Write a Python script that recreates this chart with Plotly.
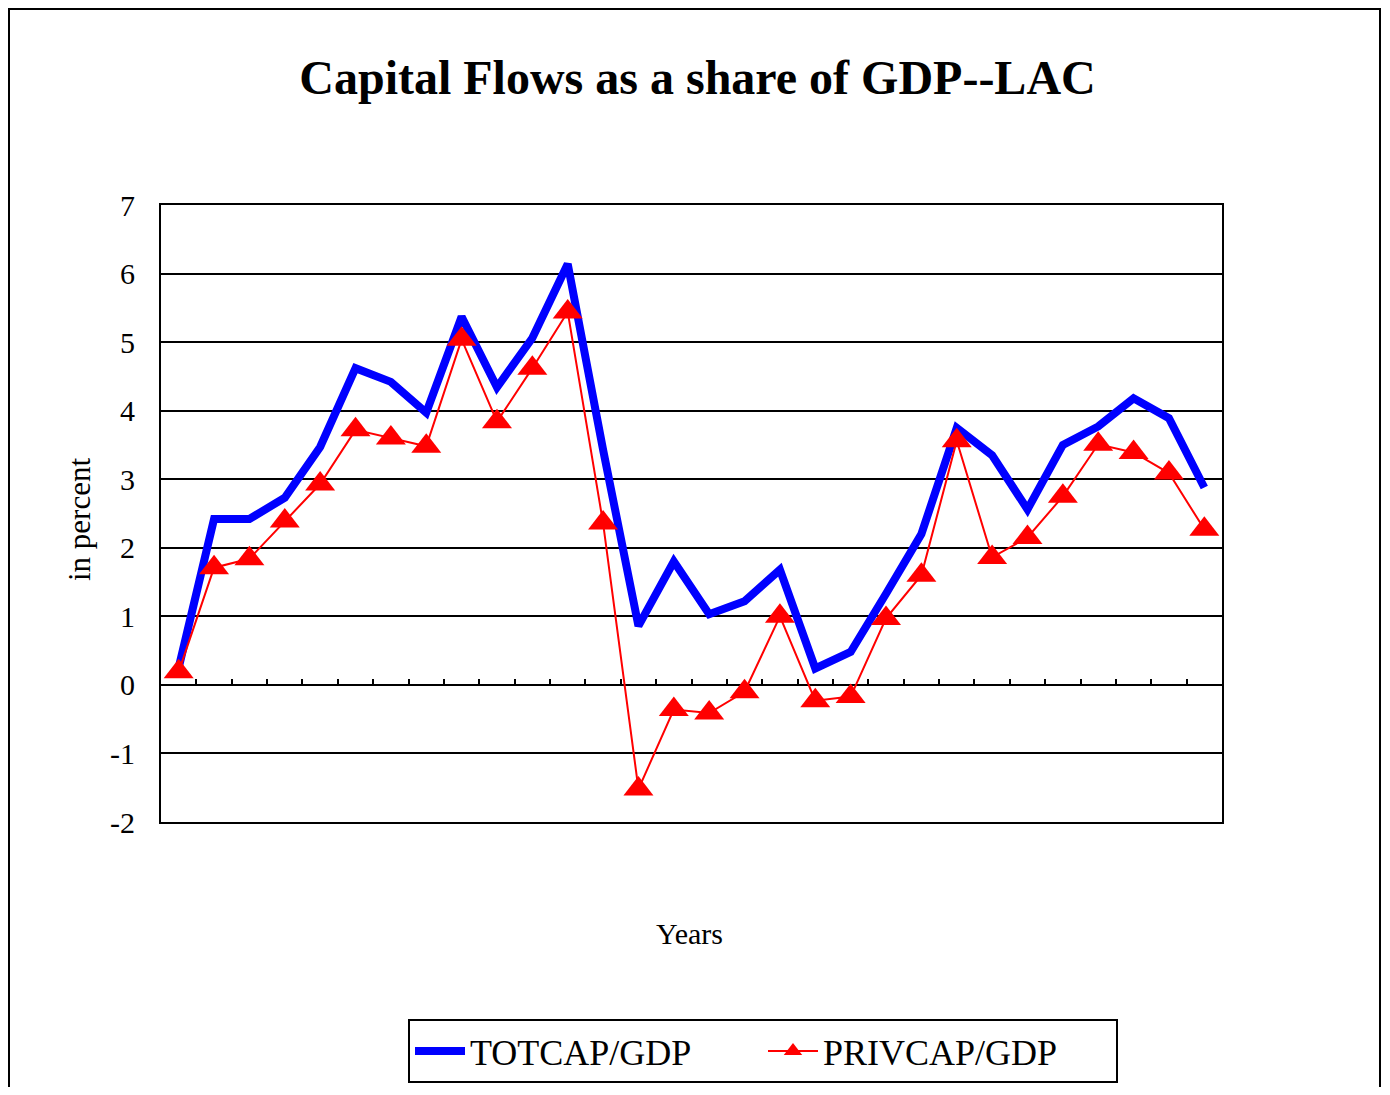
import plotly.graph_objects as go

years = list(range(1, 31))
totcap = [0.25, 2.42, 2.42, 2.73, 3.47, 4.62, 4.42, 3.97, 5.37, 4.34, 5.06, 6.14,
          3.43, 0.86, 1.80, 1.03, 1.22, 1.68, 0.24, 0.48, 1.33, 2.20, 3.75, 3.35,
          2.56, 3.50, 3.77, 4.18, 3.89, 2.88]
privcap = [0.19, 1.71, 1.84, 2.39, 2.93, 3.72, 3.60, 3.48, 5.04, 3.84, 4.62, 5.44,
           2.36, -1.52, -0.36, -0.41, -0.10, 1.00, -0.23, -0.17, 0.97, 1.60, 3.56, 1.86,
           2.15, 2.75, 3.51, 3.39, 3.09, 2.27]
y_ticks = [-2, -1, 0, 1, 2, 3, 4, 5, 6, 7]
y_ticktext = ["-2", "-1", "0", "1", "2", "3", "4", "5", "6", "7"]
boundaries = [i + 0.5 for i in range(1, 30)]

FONT = "Liberation Serif"
W, H = 1374, 1079

fig = go.Figure()
fig.add_trace(go.Scatter(x=years, y=totcap, mode="lines", name="TOTCAP/GDP",
                         line=dict(color="#0000FF", width=8)))
fig.add_trace(go.Scatter(x=years, y=privcap, mode="lines+markers", name="PRIVCAP/GDP",
                         line=dict(color="#FF0000", width=2),
                         marker=dict(symbol="triangle-up", size=26, color="#FF0000")))
# invisible trace for the zero-line tick axis
fig.add_trace(go.Scatter(x=[years[0]], y=[0], xaxis="x2", mode="markers",
                         marker=dict(opacity=0), showlegend=False, hoverinfo="skip"))

fig.update_layout(
    width=W, height=H,
    margin=dict(l=153, r=W - 1214, t=197, b=H - 814, autoexpand=False),
    paper_bgcolor="white", plot_bgcolor="white",
    font=dict(family=FONT, color="black"),
    title=dict(text="<b>Capital Flows as a share of GDP--LAC</b>",
               x=689.5 / W, xanchor="center", y=1 - 69 / H, yanchor="middle",
               font=dict(family=FONT, size=48, color="black")),
    xaxis=dict(range=[0.5, 30.5], showgrid=False, zeroline=False,
               showline=True, mirror=True, linecolor="black", linewidth=2,
               showticklabels=False, ticks=""),
    xaxis2=dict(range=[0.5, 30.5], overlaying="x", anchor="free",
                position=(0 - (-2)) / 9, side="bottom",
                tickmode="array", tickvals=boundaries, ticks="inside",
                ticklen=6, tickwidth=2, tickcolor="black",
                showticklabels=False, showgrid=False, zeroline=False, showline=False),
    yaxis=dict(range=[-2, 7], tickmode="array", tickvals=y_ticks, ticktext=y_ticktext,
               showgrid=True, gridcolor="black", gridwidth=2,
               zeroline=False, showline=True, mirror=True,
               linecolor="black", linewidth=2, ticks="",
               ticklabelstandoff=18,
               tickfont=dict(family=FONT, size=30, color="black")),
    legend=dict(orientation="h", x=(763 - 161) / 1061, xanchor="center",
                y=(822 - 1019) / 617, yanchor="top",
                bordercolor="black", borderwidth=2, bgcolor="white",
                font=dict(family=FONT, size=36, color="black"),
                itemwidth=50, entrywidth=288, tracegroupgap=0),
    showlegend=True,
)

fig.add_annotation(text="in percent", xref="paper", yref="paper",
                   x=(79 - 161) / 1061, y=(822 - 520) / 617, textangle=-90,
                   xanchor="center", yanchor="middle",
                   showarrow=False, font=dict(family=FONT, size=31, color="black"))
fig.add_annotation(text="Years", xref="paper", yref="paper",
                   x=(689 - 161) / 1061, y=(822 - 933) / 617,
                   xanchor="center", yanchor="middle",
                   showarrow=False, font=dict(family=FONT, size=30, color="black"))

# outer chart border
fig.add_shape(type="rect", xref="paper", yref="paper",
              x0=(9 - 161) / 1061, x1=(1380 - 161) / 1061,
              y0=(822 - 1110) / 617, y1=(822 - 9) / 617,
              line=dict(color="black", width=2), fillcolor="rgba(0,0,0,0)", layer="below")

fig.write_html("out.html")
